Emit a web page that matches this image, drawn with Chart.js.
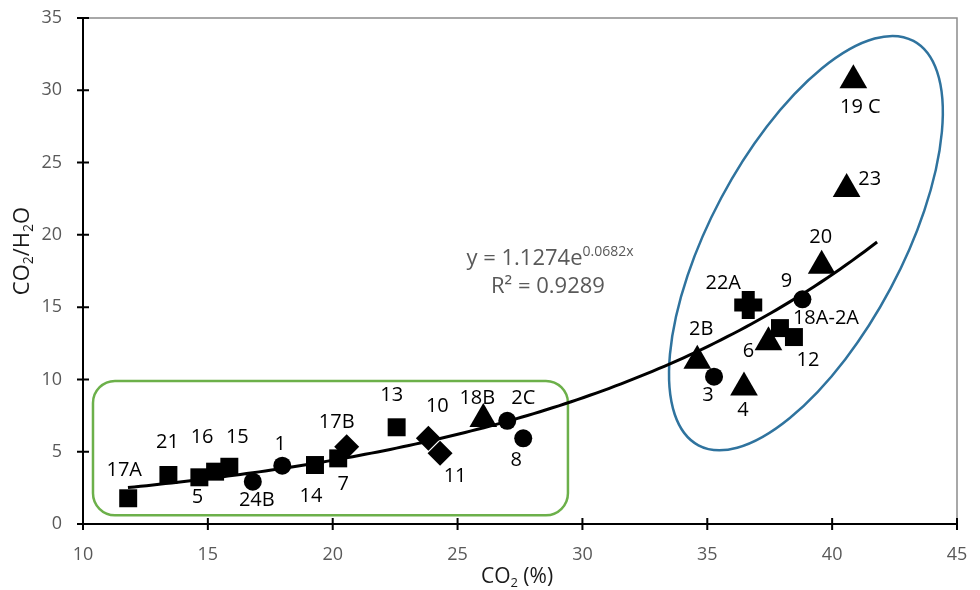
<!DOCTYPE html>
<html><head><meta charset="utf-8">
<script src="https://cdn.jsdelivr.net/npm/chart.js@4.4.1/dist/chart.umd.min.js"></script>
<style>html,body{margin:0;padding:0;background:#fff;overflow:hidden;} #wrap{width:980px;height:590px;position:relative;} canvas{display:block;}</style>
</head><body><div id="wrap"><canvas id="c"></canvas></div>
<script>
// ---- tick labels ----
const xTicks = [10, 15, 20, 25, 30, 35, 40, 45];
const yTicks = [0, 5, 10, 15, 20, 25, 30, 35];

// ---- samples by marker shape ----
const squareNames = ['17A', '21', '5', '16', '15', '14', '7', '13', '18A-2A', '12'];
const squareX     = [11.81, 13.42, 14.66, 15.29, 15.86, 19.29, 20.22, 22.56, 37.91, 38.47];
const squareY     = [1.78, 3.39, 3.23, 3.62, 3.96, 4.08, 4.54, 6.69, 13.55, 12.93];

const circleNames = ['24B', '1', '2C', '8', '3', '9'];
const circleX     = [16.80, 17.98, 26.99, 27.63, 35.27, 38.81];
const circleY     = [2.93, 4.03, 7.14, 5.93, 10.19, 15.54];

const diamondNames = ['17B', '10', '11'];
const diamondX     = [20.56, 23.83, 24.30];
const diamondY     = [5.35, 5.93, 4.89];

const triangleNames = ['18B', '2B', '6', '4', '20', '23', '19 C'];
const triangleX     = [26.03, 34.60, 37.45, 36.47, 39.58, 40.58, 40.85];
const triangleY     = [7.26, 11.29, 12.57, 9.45, 17.86, 23.17, 30.70];

const crossNames = ['22A'];
const crossX     = [36.64];
const crossY     = [15.15];

// ---- exponential trend line (as printed on the chart) ----
const trendA = 1.1274;
const trendB = 0.0682;
const trendFrom = 11.8;
const trendTo = 41.8;
const equationLine1 = 'y = 1.1274e';
const equationExp = '0.0682x';
const equationLine2 = 'R² = 0.9289';

// ---- label placement (pixel offsets from marker centre) ----
const squareLabelOffsets   = [[-4,-28],[-1,-33],[-2,20],[-13,-34],[8,-29],[-4,31],[5,26],[-5,-32],[46,-10],[14,23]];
const circleLabelOffsets   = [[4,19],[-2,-21],[16,-22],[-7,22],[-6,19],[-16,-18]];
const diamondLabelOffsets  = [[-10,-24],[9,-32],[15,23]];
const triangleLabelOffsets = [[-6,-21],[4,-31],[-20,9],[-1,23],[-1,-28],[23,-10],[7,27]];
const crossLabelOffsets    = [[-25,-22]];

// ---- annotation shapes (data coordinates) ----
const greenBox = {x0: 10.40, y0: 9.89, x1: 29.42, y1: 0.60, r: 22};
const blueEllipse = {cx: 38.95, cy: 19.43, rx: 96, ry: 229, rotDeg: 28};
const equationPos = {x: 28.70, y: 17.91};

// ---- target plot area (pixels) ----
const plotBox = {left: 83, top: 18, right: 957, bottom: 524};

function pts(xs, ys) { return xs.map((v, i) => ({x: v, y: ys[i]})); }
const trendPts = [];
for (let v = trendFrom; v <= trendTo + 1e-9; v += 0.25) trendPts.push({x: v, y: trendA * Math.exp(trendB * v)});

const FONT = '"Open Sans", "Noto Sans", sans-serif';

function drawParts(ctx, parts, cx, cy) {
  let total = 0;
  parts.forEach(p => { ctx.font = p.size + 'px ' + FONT; p.w = ctx.measureText(p.t).width; total += p.w; });
  let xx = cx - total / 2;
  parts.forEach(p => { ctx.font = p.size + 'px ' + FONT; ctx.fillText(p.t, xx, cy + (p.dy || 0)); xx += p.w; });
}

// pin the plot area to the target box after Chart.js lays out
const pinArea = {
  id: 'pinArea',
  afterLayout(chart) {
    try {
      const a = chart.chartArea;
      const {x, y} = chart.scales;
      a.left = plotBox.left; a.top = plotBox.top; a.right = plotBox.right; a.bottom = plotBox.bottom;
      a.width = a.right - a.left; a.height = a.bottom - a.top;
      y.top = a.top; y.bottom = a.bottom; y.height = a.height; y.left = 0; y.right = a.left; y.width = a.left;
      x.left = a.left; x.right = a.right; x.width = a.width; x.top = a.bottom; x.bottom = chart.height; x.height = chart.height - a.bottom;
      x.configure(); y.configure();
      x._labelItems = null; y._labelItems = null; x._gridLineItems = null; y._gridLineItems = null;
    } catch (e) { /* keep Chart.js layout */ }
  }
};

const overlay = {
  id: 'overlay',
  beforeDatasetsDraw(chart) {
    const {ctx, scales: {x, y}} = chart;
    ctx.save();
    const x0 = x.getPixelForValue(greenBox.x0), x1 = x.getPixelForValue(greenBox.x1);
    const y0 = y.getPixelForValue(greenBox.y0), y1 = y.getPixelForValue(greenBox.y1);
    ctx.beginPath();
    ctx.roundRect(x0, y0, x1 - x0, y1 - y0, greenBox.r);
    ctx.strokeStyle = '#6cb04a'; ctx.lineWidth = 2.5; ctx.stroke();
    ctx.beginPath();
    ctx.ellipse(x.getPixelForValue(blueEllipse.cx), y.getPixelForValue(blueEllipse.cy),
      blueEllipse.rx, blueEllipse.ry, blueEllipse.rotDeg * Math.PI / 180, 0, Math.PI * 2);
    ctx.strokeStyle = '#2f739e'; ctx.lineWidth = 2.5; ctx.stroke();
    ctx.restore();
  },
  afterDraw(chart) {
    const {ctx, chartArea: a, scales: {x, y}} = chart;
    ctx.save();
    // plot border (top/right)
    ctx.strokeStyle = '#8c8c8c'; ctx.lineWidth = 1.5;
    ctx.beginPath(); ctx.moveTo(a.left, a.top); ctx.lineTo(a.right, a.top); ctx.lineTo(a.right, a.bottom); ctx.stroke();
    // axes
    ctx.strokeStyle = '#000'; ctx.lineWidth = 2;
    ctx.beginPath(); ctx.moveTo(a.left, a.top); ctx.lineTo(a.left, a.bottom); ctx.lineTo(a.right, a.bottom); ctx.stroke();
    ctx.beginPath();
    xTicks.forEach(v => { const px = x.getPixelForValue(v); ctx.moveTo(px, a.bottom - 6); ctx.lineTo(px, a.bottom + 6); });
    yTicks.forEach(v => { const py = y.getPixelForValue(v); ctx.moveTo(a.left - 6, py); ctx.lineTo(a.left + 6, py); });
    ctx.stroke();

    // point labels
    ctx.fillStyle = '#000'; ctx.font = '20px ' + FONT; ctx.textAlign = 'center'; ctx.textBaseline = 'middle';
    chart.data.datasets.forEach((ds, i) => {
      if (!ds.names) return;
      const meta = chart.getDatasetMeta(i);
      meta.data.forEach((el, j) => {
        const o = ds.offsets[j];
        ctx.fillText(ds.names[j], el.x + o[0], el.y + o[1]);
      });
    });

    // equation
    ctx.fillStyle = '#595959'; ctx.textAlign = 'left'; ctx.textBaseline = 'alphabetic';
    const ex = x.getPixelForValue(equationPos.x), ey = y.getPixelForValue(equationPos.y);
    drawParts(ctx, [{t: equationLine1, size: 22}, {t: equationExp, size: 14, dy: -9}], ex, ey);
    drawParts(ctx, [{t: equationLine2, size: 22}], ex - 2, ey + 28);

    // axis titles
    ctx.fillStyle = '#1a1a1a'; ctx.textBaseline = 'middle';
    drawParts(ctx, [{t: 'CO', size: 21}, {t: '2', size: 13, dy: 6}, {t: ' (%)', size: 21}], 517, 577);
    ctx.save();
    ctx.translate(23, 251); ctx.rotate(-Math.PI / 2);
    drawParts(ctx, [{t: 'CO', size: 22}, {t: '2', size: 14, dy: 6}, {t: '/H', size: 22}, {t: '2', size: 14, dy: 6}, {t: 'O', size: 22}], 0, 0);
    ctx.restore();
    ctx.restore();
  }
};

const tickFont = {family: FONT, size: 18};
const chart = new Chart(document.getElementById('c'), {
  type: 'scatter',
  data: {
    datasets: [
      {data: trendPts, showLine: true, borderColor: '#000', borderWidth: 3, pointRadius: 0, order: 5},
      {data: pts(squareX, squareY), names: squareNames, offsets: squareLabelOffsets, pointStyle: 'rect', pointRadius: 12.7, backgroundColor: '#000', borderColor: '#000', borderWidth: 0, order: 1},
      {data: pts(circleX, circleY), names: circleNames, offsets: circleLabelOffsets, pointStyle: 'circle', pointRadius: 9, backgroundColor: '#000', borderColor: '#000', borderWidth: 0, order: 1},
      {data: pts(diamondX, diamondY), names: diamondNames, offsets: diamondLabelOffsets, pointStyle: 'rectRot', pointRadius: 12.5, backgroundColor: '#000', borderColor: '#000', borderWidth: 0, order: 1},
      {data: pts(triangleX, triangleY), names: triangleNames, offsets: triangleLabelOffsets, pointStyle: 'triangle', pointRadius: 16, backgroundColor: '#000', borderColor: '#000', borderWidth: 0, order: 1},
      {data: pts(crossX, crossY), names: crossNames, offsets: crossLabelOffsets, pointStyle: 'cross', pointRadius: 14, backgroundColor: '#000', borderColor: '#000', borderWidth: 13, order: 1}
    ]
  },
  options: {
    responsive: true, maintainAspectRatio: false, animation: false,
    layout: {padding: {left: 0, right: 23, top: 18, bottom: 0}},
    plugins: {legend: {display: false}, tooltip: {enabled: false}},
    scales: {
      x: {
        type: 'linear', min: 10, max: 45,
        afterBuildTicks: s => { s.ticks = xTicks.map(v => ({value: v})); },
        afterFit: s => { s.height = 66; },
        ticks: {color: '#595959', font: tickFont, padding: 0},
        grid: {display: false, drawTicks: true, tickLength: 20}, border: {display: false}
      },
      y: {
        type: 'linear', min: 0, max: 35,
        afterBuildTicks: s => { s.ticks = yTicks.map(v => ({value: v})); },
        afterFit: s => { s.width = 83; },
        ticks: {color: '#595959', font: tickFont, padding: 0},
        grid: {display: false, drawTicks: true, tickLength: 21}, border: {display: false}
      }
    }
  },
  plugins: [pinArea, overlay]
});
</script></body></html>
